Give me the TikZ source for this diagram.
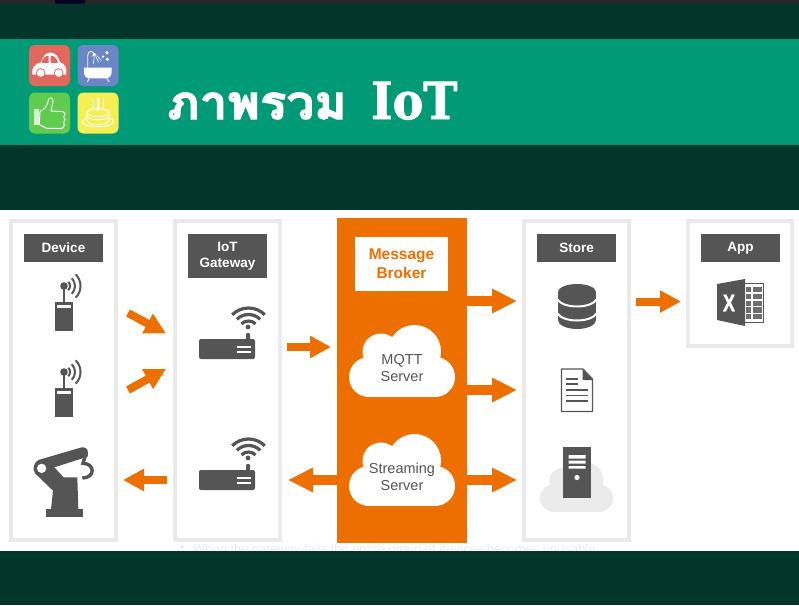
\documentclass[tikz,border=0pt]{standalone}
\usepackage{fontspec}
\setmainfont{Liberation Sans}
\newfontfamily\thaifont[Script=Thai,FakeStretch=1.05,BoldFeatures={FakeBold=2.5}]{Loma}
\newfontfamily\slabfont[FakeStretch=0.9,BoldFeatures={FakeBold=1.5}]{DejaVu Serif}
\newfontfamily\narrowsans[FakeStretch=0.75,BoldFeatures={FakeBold=1.5}]{Liberation Sans}
\usetikzlibrary{arrows.meta}
\definecolor{bgdark}{HTML}{02362A}
\definecolor{band}{HTML}{009B76}
\definecolor{panelgray}{HTML}{E9E9E9}
\definecolor{ink}{HTML}{555555}
\definecolor{brand}{HTML}{EC6F00}
\definecolor{tilered}{HTML}{E2685E}
\definecolor{tileblue}{HTML}{6B86C6}
\definecolor{tilegreen}{HTML}{5FCB4F}
\definecolor{tileyellow}{HTML}{F6EE55}
\tikzset{
  x=1pt,y=-1pt,
  panelbox/.style={draw=panelgray,line width=4pt,fill=white,minimum width=105pt,inner sep=0pt,outer sep=2pt},
  headbox/.style={fill=ink,text=white,minimum width=79pt,inner sep=0pt,align=center,font=\fontsize{13.5}{16.5}\selectfont\bfseries},
  cloudtext/.style={text=ink,align=center,inner sep=0pt,font=\fontsize{14.5}{17}\selectfont},
  tile/.style={rounded corners=6pt,minimum size=41pt,inner sep=0pt},
  fatarrow/.style={draw=brand,line width=8pt,-{Triangle[length=21pt,width=21pt]}},
  bigarrow/.style={draw=brand,line width=10pt,-{Triangle[length=25pt,width=23pt]}},
  radioicon/.pic={
    \fill[ink] (-9,0) rectangle (9,29);
    \fill[white] (-7,2.5) rectangle (7,6);
    \draw[ink,line width=1.5pt] (0,-14) -- (0,0);
    \fill[ink] (0,-16) circle (3.8);
    \foreach \r in {6,11,16.5}
      \draw[ink,line width=2pt] (0,-16) ++(-45:\r) arc (-45:45:\r);
  },
  routericon/.pic={
    \fill[ink,rounded corners=2pt] (-49,0) rectangle (7,20);
    \draw[white,line width=1.2pt] (-11,8) -- (3,8) (-11,13) -- (3,13);
    \fill[ink,rounded corners=1pt] (-2,-6) rectangle (2,1);
    \fill[ink] (0,-12) circle (2.4);
    \foreach \r in {10,16.5,23}
      \draw[ink,line width=3.2pt] (0.5,-8) ++(-135:\r) arc (-135:-45:\r);
  },
  cloudicon/.pic={
    \fill (-33,15.5) circle (20);
    \fill (-21,-9.5) circle (18.5);
    \fill (12.5,-10) circle (26.5);
    \fill (33,15.5) circle (20);
    \fill (-33,0) rectangle (33,35.5);
    \fill (-20,-10) rectangle (20,10);
  },
}
\begin{document}
\begin{tikzpicture}
\useasboundingbox (0,0) rectangle (799,605);
% page background
\fill[bgdark] (0,0) rectangle (799,605);
\fill[black!85] (0,0) rectangle (799,4);
\fill[black!85!blue,rounded corners=2pt] (55,-3) rectangle (85,3.5);
\fill[band] (0,39) rectangle (799,145);
\fill[white] (0,210) rectangle (799,551);
\node[anchor=base west,inner sep=0pt,text=black!7,font=\fontsize{12.95}{15}\selectfont] (faint) at (193,553)
  {When the gateway fails the entire group of devices becomes unusable.};
\fill[black!7] (182,547) circle (2);
\fill[bgdark] (0,551) rectangle (799,605);

% header tiles
\node[tile,fill=tilered] (tcar) at (49.5,65.5) {};
\node[tile,fill=tileblue] (tbath) at (98,65.5) {};
\node[tile,fill=tilegreen] (tthumb) at (49.5,113) {};
\node[tile,fill=tileyellow] (tcake) at (98,113) {};
\begin{scope}[x=0.3333pt,y=-0.3333pt]
  % car
  \fill[white] (97,224) .. controls (93,205) and (105,190) .. (123,187)
     .. controls (130,165) and (140,158) .. (150,158)
     .. controls (165,158) and (175,168) .. (180,187)
     .. controls (195,190) and (202,205) .. (198,224) -- cycle;
  \fill[tilered] (124,189) -- (146,189) -- (146,167) .. controls (135,167) and (129,175) .. (124,189) -- cycle;
  \fill[tilered] (152,189) -- (174,189) .. controls (170,175) and (165,168) .. (152,167) -- cycle;
  \foreach \cx in {122,176}{
    \fill[tilered] (\cx,219) circle (14.5);
    \fill[white] (\cx,219) circle (11.5);
  }
  % bath
  \fill[white] (252,203) -- (335,203) -- (335,215) .. controls (335,228) and (328,235) .. (318,235)
     -- (270,235) .. controls (258,235) and (252,228) .. (252,215) -- cycle;
  \draw[white,line width=0.8pt] (268,235) -- (262,246) (320,235) -- (328,246);
  \draw[white,line width=0.8pt] (263,203) -- (263,168) .. controls (263,150) and (280,150) .. (282,165);
  \fill[white] (275,170) -- (290,165) -- (283,158) -- cycle;
  \draw[white,line width=0.6pt] (283,170) -- (280,192) (287,169) -- (296,187) (291,167) -- (304,182);
  \fill[white] (321,158) circle (5) (309,170) circle (4) (322,178) circle (5);
  % thumb
  \fill[white!75!tilegreen] (103,328) rectangle (118,376);
  \draw[white,line width=0.9pt,fill=tilegreen,line join=round]
    (120,334) -- (134,325) .. controls (142,315) and (145,305) .. (146,298)
    .. controls (150,290) and (160,293) .. (159,305) -- (153,333) -- (188,335)
    .. controls (197,337) and (197,348) .. (191,351)
    .. controls (197,354) and (197,364) .. (191,367)
    .. controls (195,372) and (194,382) .. (187,385)
    -- (140,385) -- (118,374) -- cycle;
  % cake
  \draw[white,line width=0.9pt] (294,365) ellipse (47 and 15);
  \fill[tileyellow] (261,340) rectangle (327,365);
  \fill[tileyellow] (294,365) ellipse (33 and 9);
  \draw[white,line width=0.9pt] (261,338) -- (261,362) .. controls (265,378) and (323,378) .. (327,362) -- (327,338);
  \draw[white,line width=0.9pt] (294,338) ellipse (33 and 12);
  \draw[white,line width=0.9pt] (262,350) .. controls (270,362) and (318,362) .. (326,350);
  \draw[white,line width=1.2pt] (278,296) -- (278,330) (294,294) -- (294,332) (310,296) -- (310,330);
\end{scope}

% title
\node[anchor=base west,inner sep=0pt,text=white,font=\thaifont\bfseries\fontsize{47}{50}\selectfont] (title) at (167,119) {ภาพรวม};
\node[anchor=base west,inner sep=0pt,text=white,font=\slabfont\bfseries\fontsize{51}{60}\selectfont] (titleb) at (371,119) {IoT};

% panels
\node[panelbox,minimum height=319pt] (device) at (63.5,380.5) {};
\node[panelbox,minimum height=319pt] (gateway) at (227.5,380.5) {};
\node[panelbox,minimum height=319pt] (store) at (576.5,380.5) {};
\node[panelbox,minimum height=125pt,minimum width=104pt] (app) at (740,283.5) {};
\node[fill=brand,minimum width=130pt,minimum height=325pt,inner sep=0pt,outer sep=0pt] (broker) at (402,380.5) {};

% panel heads
\node[headbox,minimum height=28pt] (hdevice) at (63.5,248) {Device};
\node[headbox,minimum height=44pt] (hgateway) at (227.5,256) {\raisebox{-1pt}{IoT}\\\raisebox{-0.5pt}{Gateway}};
\node[headbox,minimum height=28pt] (hstore) at (576.5,248) {Store};
\node[headbox,minimum height=28pt] (happ) at (740.5,248) {App};
\node[fill=white,text=brand,minimum width=93pt,minimum height=54pt,inner sep=0pt,align=center,font=\fontsize{15.5}{19}\selectfont\bfseries] (hbroker) at (401.5,264) {\raisebox{-0.7pt}{Message}\\\raisebox{-0.7pt}{Broker}};

% clouds
\pic[white] at (402,361.5) {cloudicon};
\pic[white] at (402,470.5) {cloudicon};
\node[cloudtext] (mqtt) at (402,368) {MQTT\\Server};
\node[cloudtext] (stream) at (402,476.5) {Streaming\\Server};

% device icons
\pic at (64,302) {radioicon};
\pic at (64,388) {radioicon};
\begin{scope}[shift={(25,440)},x=0.3333pt,y=-0.3333pt]
  \fill[ink] (62,207) rectangle (175,230);
  \fill[ink,line join=round] (78,208) -- (84,152) -- (30,100) .. controls (22,85) and (25,70) .. (40,60)
     -- (170,22) .. controls (185,20) and (192,30) .. (188,50) -- (88,82) -- (116,112) -- (157,112) -- (160,208) -- cycle;
  \fill[white] (50,85) circle (14);
  \draw[ink,line width=3.4pt] (182,44) -- (174,70) .. controls (210,70) and (212,114) .. (172,114);
\end{scope}

% routers
\pic at (248,339) {routericon};
\pic at (248,470) {routericon};

% store icons
\fill[ink] (558,292) rectangle (596,320);
\fill[ink] (577,292) ellipse (19 and 8);
\fill[ink] (577,320) ellipse (19 and 9);
\draw[white,line width=2pt] (557,299) .. controls (563,309) and (591,309) .. (597,299);
\draw[white,line width=2pt] (557,313) .. controls (563,323) and (591,323) .. (597,313);

\draw[ink,line width=1.2pt,fill=white,line join=round] (561.5,369) -- (583,369) -- (592.5,379) -- (592.5,411.5) -- (561.5,411.5) -- cycle;
\fill[ink] (582.5,369) -- (582.5,380) -- (593,380) -- cycle;
\draw[ink,line width=1.3pt] (566,379) -- (578,379) (566,384) -- (578,384) (566,390) -- (588,390) (566,395.5) -- (588,395.5) (566,401) -- (588,401);

\pic[panelgray!90!white,scale=0.69] at (576.5,487.5) {cloudicon};
\fill[ink] (563,447) rectangle (591,498);
\fill[white] (568.5,455) rectangle (585.5,458.5) (568.5,460.5) rectangle (585.5,463.5) (568.5,466) rectangle (585.5,468.5);
\fill[white] (577,477.5) circle (2.6);

% excel icon
\draw[ink,line width=0.8pt] (744,283.5) rectangle (763.5,322);
\foreach \ry in {0,1,2,3,4}{
  \fill[ink!85!white] (746,{287+\ry*6.8}) rectangle (750.5,{292.2+\ry*6.8});
  \fill[ink!85!white] (752.5,{287+\ry*6.8}) rectangle (761.5,{292.2+\ry*6.8});
}
\fill[ink] (717,284) -- (745,279) -- (745,326) -- (717,320) -- cycle;
\node[text=white,inner sep=0pt,font=\narrowsans\bfseries\fontsize{24}{24}\selectfont] (xl) at (729,303) {X};

% connectors
\coordinate (a1s) at (128,313); \coordinate (a1t) at (166,333.5);
\coordinate (a2s) at (128,390); \coordinate (a2t) at (166,369);
\coordinate (a3s) at (167,480); \coordinate (a3t) at (123,480);
\coordinate (a4s) at (287,347); \coordinate (a4t) at (331,347);
\coordinate (a5t) at (288,480);
\coordinate (b1) at (517,301); \coordinate (b2) at (517,390); \coordinate (b3) at (517,480);
\coordinate (b1s) at (467,301); \coordinate (b2s) at (467,390); \coordinate (b3s) at (467,480);
\coordinate (a5s) at (337,480);
\coordinate (c1s) at (636,301.5); \coordinate (c1t) at (681,301.5);
\draw[fatarrow] (a1s) -- (a1t);
\draw[fatarrow] (a2s) -- (a2t);
\draw[fatarrow] (a3s) -- (a3t);
\draw[fatarrow] (a4s) -- (a4t);
\draw[bigarrow] (a5s) -- (a5t);
\draw[bigarrow] (b1s) -- (b1);
\draw[bigarrow] (b2s) -- (b2);
\draw[bigarrow] (b3s) -- (b3);
\draw[fatarrow] (c1s) -- (c1t);
\end{tikzpicture}
\end{document}
